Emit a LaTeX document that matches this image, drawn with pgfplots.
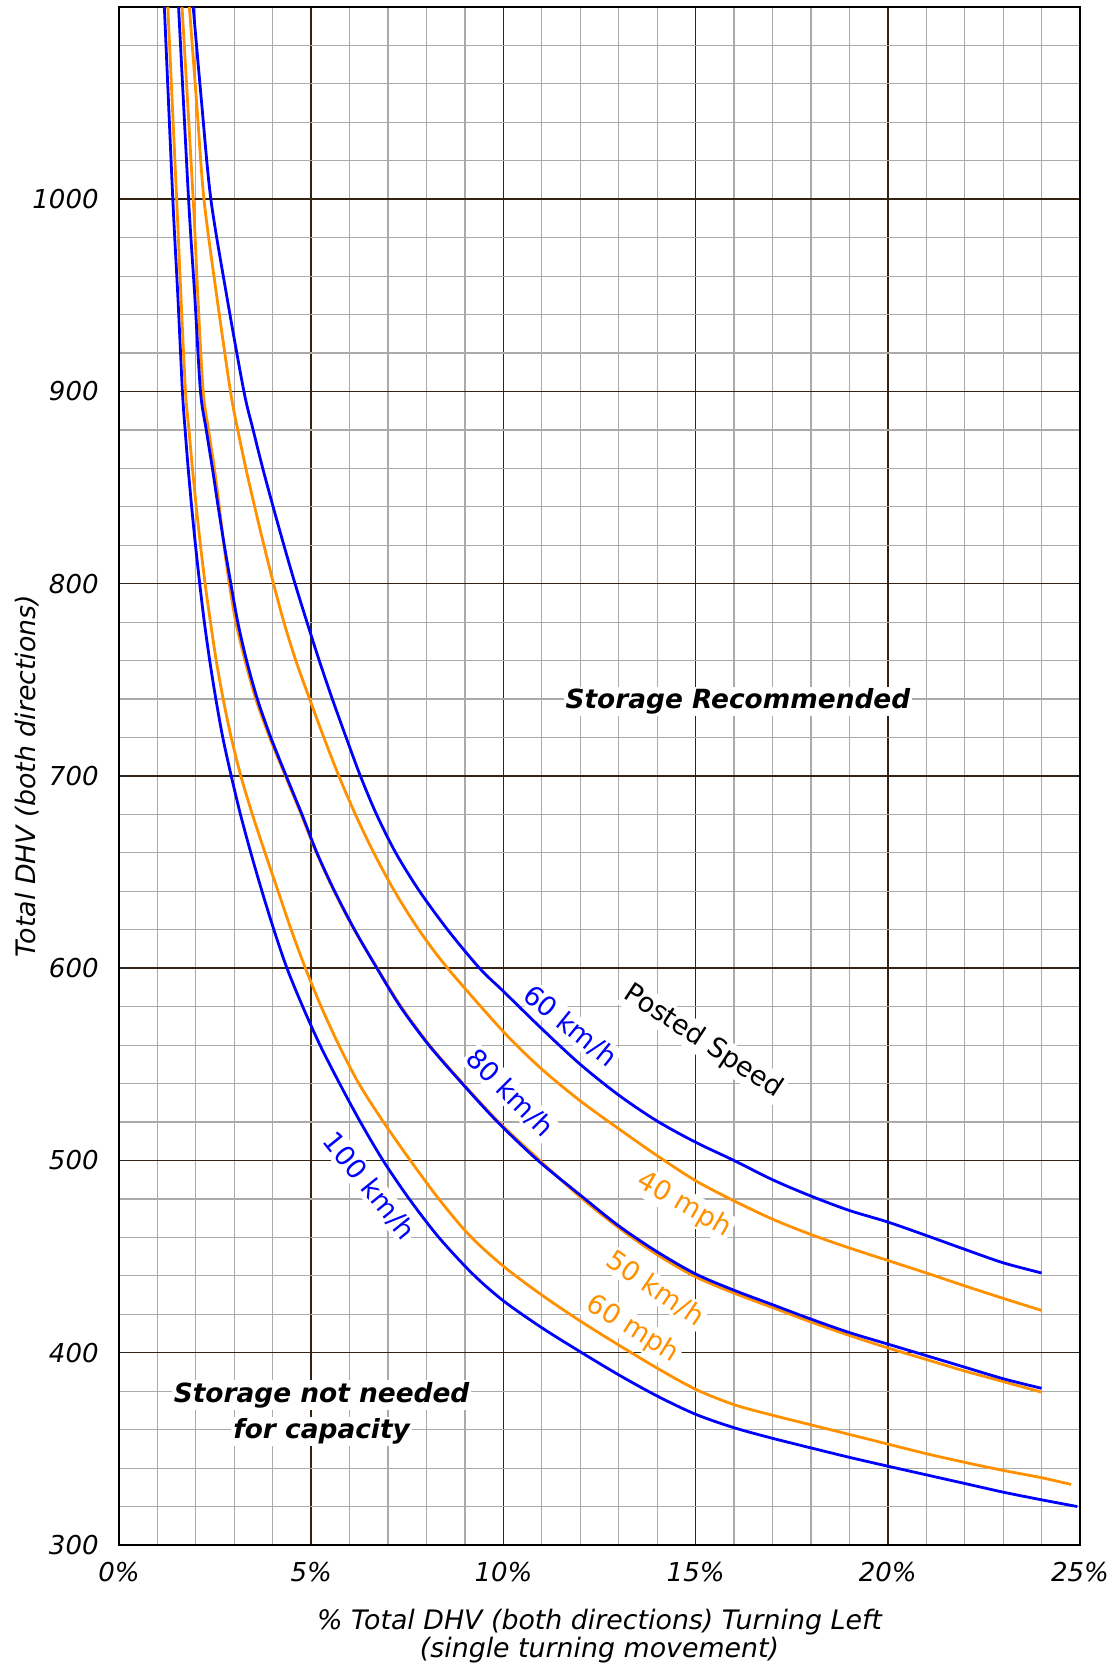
\documentclass[border=0pt]{standalone}
\usepackage{fontspec}
\setmainfont{DejaVu Sans}[ItalicFont={DejaVu Sans Oblique},BoldFont={DejaVu Sans Bold},BoldItalicFont={DejaVu Sans Bold Oblique}]
\usepackage{pgfplots}
\pgfplotsset{compat=1.18}
\definecolor{cblue}{RGB}{0,0,255}
\definecolor{corange}{RGB}{255,145,0}
\definecolor{majgrid}{RGB}{50,35,20}
\definecolor{mingrid}{RGB}{170,170,170}
\begin{document}
\begin{tikzpicture}
\begin{axis}[
 name=ax,
 width=480.5pt, height=769pt, scale only axis,
 xmin=0, xmax=25, ymin=300, ymax=1100,
 xtick={0,5,...,25}, xticklabels={0\%,5\%,10\%,15\%,20\%,25\%},
 ytick={300,400,...,1000}, yticklabels={300,400,500,600,700,800,900,1000},
 minor xtick={0,1,...,25}, minor ytick={300,320,...,1100},
 grid=both,
 major grid style={majgrid, line width=0.75pt},
 minor grid style={mingrid, line width=0.6pt},
 major tick length=0pt, minor tick length=0pt,
 axis line style={black, line width=1.2pt},
 tick label style={font=\fontsize{13}{15}\selectfont\itshape},
 xticklabel style={anchor=center, yshift=-13.5pt},
 yticklabel style={anchor=east, inner sep=0pt, xshift=-10pt},
 xlabel={\% Total DHV (both directions) Turning Left\\(single turning movement)},
 ylabel={Total DHV (both directions)},
 label style={font=\fontsize{13.4}{14.4}\selectfont\itshape},
 xlabel style={at={(axis description cs:0.5,-0.0592)}, anchor=center, align=center},
 ylabel style={at={(axis description cs:-0.0957,0.5)}, anchor=center},
 every axis plot/.append style={line width=1.4pt, line join=round, smooth, tension=0.5},
]
% 100 km/h
\addplot[cblue] coordinates {(1.18,1100) (1.40,1000) (1.53,950) (1.65,900) (1.72,880) (1.80,860) (1.89,840) (1.99,820) (2.10,800) (2.22,780) (2.36,760) (2.52,740) (2.70,720) (2.92,700) (3.16,680) (3.43,660) (3.72,640) (4.03,620) (4.37,600) (4.78,580) (5.23,560) (5.74,540) (6.28,520) (6.87,500) (7.55,480) (8.32,460) (9.20,441) (10,427) (11,413) (12,400.5) (13,388.5) (14,377.5) (15,368) (16,361) (17,355.5) (18,350.5) (19,345.6) (20,341) (21,336.5) (22,332) (23,327.5) (24,323.5) (24.93,320)};
% 60 mph
\addplot[corange] coordinates {(1.27,1100) (1.50,1000) (1.61,950) (1.73,900) (1.82,880) (1.91,860) (2.01,840) (2.12,820) (2.24,800) (2.38,780) (2.53,760) (2.71,740) (2.92,720) (3.17,700) (3.47,680) (3.80,660) (4.14,640) (4.48,620) (4.85,600) (5.26,580) (5.72,560) (6.24,540) (6.88,520) (7.58,500) (8.32,480) (9.12,461) (10,445) (11,430) (12,416.5) (13,404) (14,392) (15,381) (16,373) (17,367.5) (18,362.5) (19,357.5) (20,352.5) (21,347.5) (22,343) (23,338.8) (24,335) (24.77,331.5)};
% 50 km/h
\addplot[corange] coordinates {(1.64,1100) (1.93,1000) (2.05,950) (2.19,900) (2.33,880) (2.48,860) (2.61,840) (2.73,820) (2.87,800) (3.04,780) (3.28,760) (3.56,740) (3.92,720) (4.33,700) (4.74,680) (5.14,660) (5.60,640) (6.12,620) (6.72,600) (7.34,580) (8.08,560) (8.95,540) (9.88,520) (10.95,500) (12,481) (13,465) (14,451) (15,439.5) (16,431) (17,423.5) (18,416) (19,409) (20,402.5) (21,396.5) (22,390.5) (23,385) (24,379.5)};
% 80 km/h
\addplot[cblue] coordinates {(1.55,1100) (1.81,1000) (1.97,950) (2.12,900) (2.27,880) (2.43,860) (2.58,840) (2.74,820) (2.91,800) (3.09,780) (3.32,760) (3.60,740) (3.95,720) (4.35,700) (4.76,680) (5.15,660) (5.61,640) (6.13,620) (6.71,600) (7.32,580) (8.06,560) (8.93,540) (9.85,520) (10.9,500) (12,482) (13,466) (14,452.5) (15,441) (16,432.5) (17,425) (18,417.5) (19,410.5) (20,404.5) (21,398.5) (22,392.5) (23,386.5) (24,381.5)};
% 40 mph
\addplot[corange] coordinates {(1.83,1100) (2.02,1050) (2.21,1000) (2.54,950) (2.90,900) (3.09,880) (3.30,860) (3.53,840) (3.77,820) (4.02,800) (4.29,780) (4.60,760) (4.96,740) (5.33,720) (5.72,700) (6.15,680) (6.63,660) (7.17,640) (7.80,620) (8.55,600) (10,567) (11,547.5) (12,531) (13,516.5) (14,502.5) (15,489.5) (16,479) (17,469.5) (18,461.5) (19,454.5) (20,448) (21,441.5) (22,434.8) (23,428.3) (24,422)};
% 60 km/h
\addplot[cblue] coordinates {(1.93,1100) (2.15,1050) (2.39,1000) (2.80,950) (3.25,900) (3.49,880) (3.74,860) (4.01,840) (4.29,820) (4.58,800) (4.89,780) (5.21,760) (5.55,740) (5.91,720) (6.28,700) (6.70,680) (7.20,660) (7.82,640) (8.55,620) (9.38,600) (10,588) (11,568.5) (12,550) (13,534) (14,520.5) (15,509.5) (16,500) (17,490) (18,481.5) (19,474) (20,468) (21,461) (22,453.8) (23,446.8) (24,441.5)};

\node[fill=white, inner sep=1pt, font=\fontsize{13.2}{15}\selectfont\bfseries\itshape] at (axis cs:16.1,738.7) {Storage Recommended};
\node[fill=white, inner sep=1pt, font=\fontsize{13.2}{15}\selectfont\bfseries\itshape] at (axis cs:5.27,378) {Storage not needed};
\node[fill=white, inner sep=1pt, font=\fontsize{13.2}{15}\selectfont\bfseries\itshape] at (axis cs:5.27,359) {for capacity};
\node[fill=white, inner sep=1pt, font=\fontsize{13.5}{15}\selectfont, rotate=-33] at (axis cs:15.2,561.8) {Posted Speed};
\node[fill=white, inner sep=1pt, font=\fontsize{13.5}{15}\selectfont, rotate=-39, text=cblue] at (axis cs:11.74,569.9) {60 km/h};
\node[fill=white, inner sep=1pt, font=\fontsize{13.5}{15}\selectfont, rotate=-45, text=cblue] at (axis cs:10.17,535) {80 km/h};
\node[fill=white, inner sep=1pt, font=\fontsize{13.5}{15}\selectfont, rotate=-51, text=cblue] at (axis cs:6.51,486.7) {100 km/h};
\node[fill=white, inner sep=1pt, font=\fontsize{13.5}{15}\selectfont, rotate=-30, text=corange] at (axis cs:14.7,476.9) {40 mph};
\node[fill=white, inner sep=1pt, font=\fontsize{13.5}{15}\selectfont, rotate=-34, text=corange] at (axis cs:13.95,433.5) {50 km/h};
\node[fill=white, inner sep=1pt, font=\fontsize{13.5}{15}\selectfont, rotate=-32, text=corange] at (axis cs:13.36,412.2) {60 mph};
\end{axis}
\pgfresetboundingbox
\path[use as bounding box] ([shift={(-59.5pt,-61.5pt)}]ax.south west) rectangle ([shift={(18.5pt,3.5pt)}]ax.north east);
\end{tikzpicture}
\end{document}
